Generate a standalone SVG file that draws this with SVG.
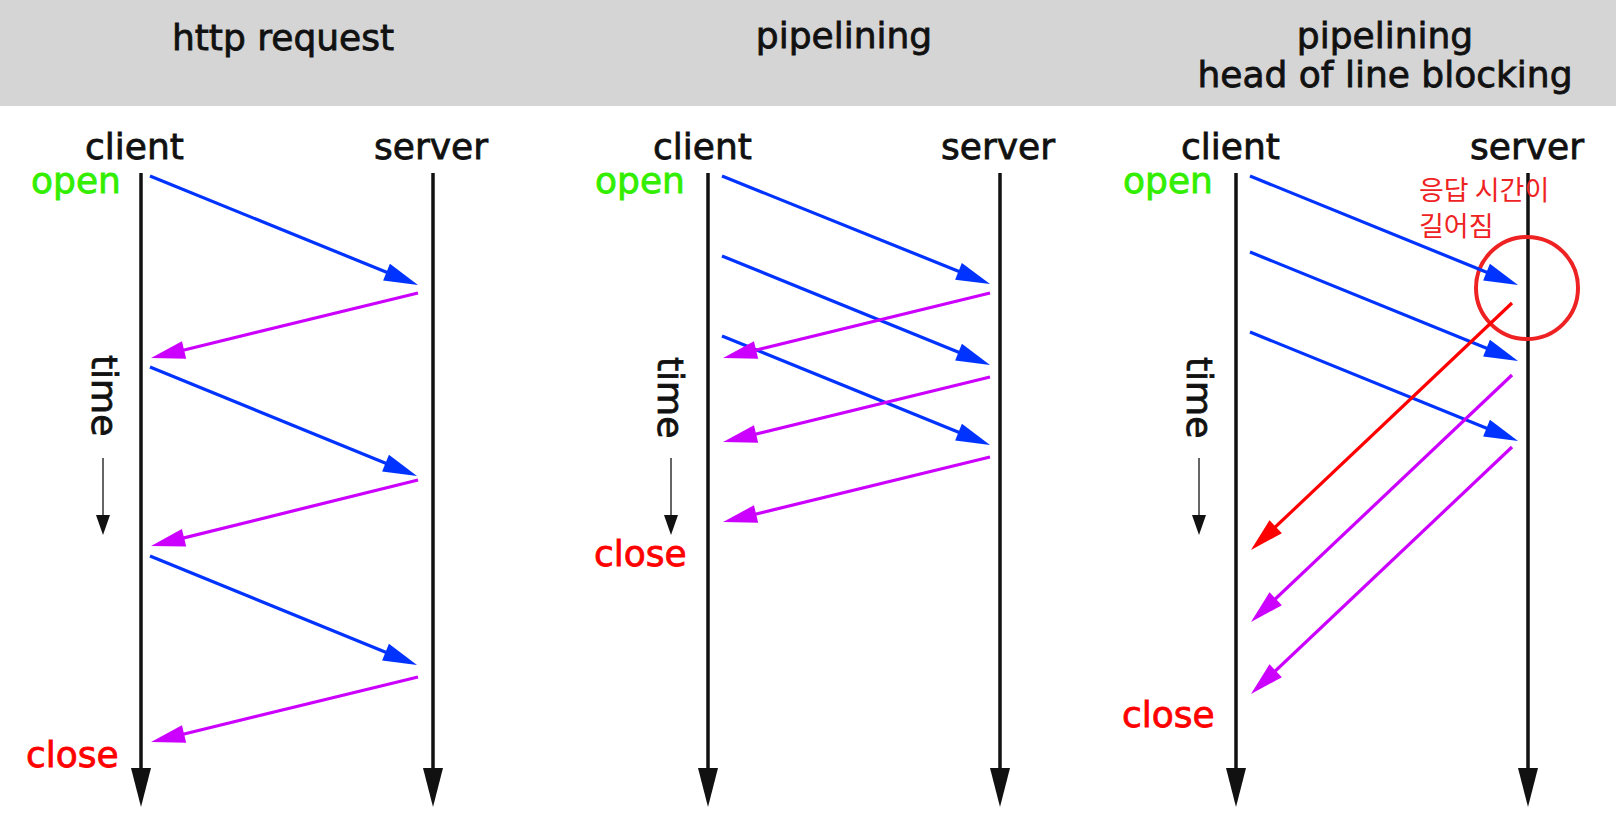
<svg xmlns="http://www.w3.org/2000/svg" width="1616" height="836" viewBox="0 0 1616 836">
<style>
  text { font-family: "DejaVu Sans", "Liberation Sans", sans-serif; font-size: 36px; fill: #111; stroke: #111; stroke-width: 0.8; }
  .open { fill: #33ee00; stroke: #33ee00; }
  .close { fill: #ff0000; stroke: #ff0000; }
  .ko { font-family: "Noto Sans CJK KR", "DejaVu Sans", sans-serif; font-size: 27px; fill: #ee2222; stroke: none; }
  .life { stroke: #111; stroke-width: 3.5; fill: none; marker-end: url(#bigHead); }
  .req { stroke: #0033ff; stroke-width: 3.2; fill: none; marker-end: url(#blueHead); }
  .res { stroke: #cc00ff; stroke-width: 3.2; fill: none; marker-end: url(#magHead); }
  .slow { stroke: #ff0000; stroke-width: 3.2; fill: none; marker-end: url(#redHead); }
  .tarrow { stroke: #666; stroke-width: 2; fill: none; marker-end: url(#smallHead); }
</style>
<defs>
  <marker id="blueHead" markerUnits="userSpaceOnUse" markerWidth="36" markerHeight="20" refX="22" refY="9" orient="auto" overflow="visible">
    <path d="M0,0 L34,9 L0,18 z" fill="#0033ff"/>
  </marker>
  <marker id="magHead" markerUnits="userSpaceOnUse" markerWidth="36" markerHeight="20" refX="22" refY="9" orient="auto" overflow="visible">
    <path d="M0,0 L34,9 L0,18 z" fill="#cc00ff"/>
  </marker>
  <marker id="redHead" markerUnits="userSpaceOnUse" markerWidth="36" markerHeight="20" refX="22" refY="9" orient="auto" overflow="visible">
    <path d="M0,0 L34,9 L0,18 z" fill="#ff0000"/>
  </marker>
  <marker id="bigHead" markerUnits="userSpaceOnUse" markerWidth="40" markerHeight="20" refX="2" refY="10" orient="auto" overflow="visible">
    <path d="M0,0 L39,10 L0,20 z" fill="#111"/>
  </marker>
  <marker id="smallHead" markerUnits="userSpaceOnUse" markerWidth="22" markerHeight="14" refX="2" refY="7" orient="auto" overflow="visible">
    <path d="M0,0 L20,7 L0,14 z" fill="#111"/>
  </marker>
</defs>

<rect x="0" y="0" width="1616" height="106" fill="#d5d5d5"/>

<g id="titles">
  <text x="283" y="50" text-anchor="middle">http request</text>
  <text x="844" y="48" text-anchor="middle">pipelining</text>
  <text x="1385" y="48" text-anchor="middle">pipelining</text>
  <text x="1385" y="87" text-anchor="middle">head of line blocking</text>
</g>

<!-- Panel 1 -->
<g id="p1-client">
  <text x="85" y="159">client</text>
  <path class="life" d="M141,173 V770"/>
</g>
<g id="p1-server">
  <text x="374" y="159">server</text>
  <path class="life" d="M433,173 V770"/>
</g>
<g id="p1-labels">
  <text class="open" x="31" y="193">open</text>
  <text class="close" x="26" y="767">close</text>
  <text transform="translate(92,355) rotate(90)">time</text>
  <path class="tarrow" d="M103,458 V517"/>
</g>

<!-- Panel 2 -->
<g id="p2-client">
  <text x="653" y="159">client</text>
  <path class="life" d="M708,173 V770"/>
</g>
<g id="p2-server">
  <text x="941" y="159">server</text>
  <path class="life" d="M1000,173 V770"/>
</g>
<g id="p2-labels">
  <text class="open" x="595" y="193">open</text>
  <text class="close" x="594" y="566">close</text>
  <text transform="translate(658,357) rotate(90)">time</text>
  <path class="tarrow" d="M671,458 V517"/>
</g>

<!-- Panel 3 -->
<g id="p3-client">
  <text x="1181" y="159">client</text>
  <path class="life" d="M1236,173 V770"/>
</g>
<g id="p3-server">
  <text x="1470" y="159">server</text>
  <path class="life" d="M1528,173 V770"/>
</g>
<g id="p3-labels">
  <text class="open" x="1123" y="193">open</text>
  <text class="close" x="1122" y="727">close</text>
  <text transform="translate(1187,357) rotate(90)">time</text>
  <path class="tarrow" d="M1199,458 V517"/>
</g>
<g id="p3-note">
  <text class="ko" x="1419" y="200">응답 시간이</text>
  <text class="ko" x="1419" y="236">길어짐</text>
  <circle cx="1527" cy="288" r="51" fill="none" stroke="#ee2222" stroke-width="4"/>
</g>

<g id="connectors">
  <!-- panel 1 -->
  <path class="req" d="M150,176 L406.9,280.5"/>
  <path class="res" d="M418,293 L162.7,355.2"/>
  <path class="req" d="M150,367 L405.9,471.5"/>
  <path class="res" d="M418,480 L162.7,543.1"/>
  <path class="req" d="M150,556 L405.9,660.5"/>
  <path class="res" d="M418,677 L162.7,739.2"/>
  <!-- panel 2 -->
  <path class="req" d="M722,176 L978.9,279.5"/>
  <path class="req" d="M722,256 L978.9,360.5"/>
  <path class="req" d="M722,336 L978.9,440.5"/>
  <path class="res" d="M990,293 L734.7,355.2"/>
  <path class="res" d="M990,377 L734.7,439.2"/>
  <path class="res" d="M990,457 L734.7,519.2"/>
  <!-- panel 3 -->
  <path class="req" d="M1250,176 L1506.9,280.5"/>
  <path class="req" d="M1250,252 L1506.9,356.5"/>
  <path class="req" d="M1250,332 L1506.9,436.5"/>
  <path class="slow" d="M1512,303 L1259.7,541.8"/>
  <path class="res" d="M1512,375 L1259.7,613.8"/>
  <path class="res" d="M1512,447 L1259.7,685.8"/>
</g>
</svg>
